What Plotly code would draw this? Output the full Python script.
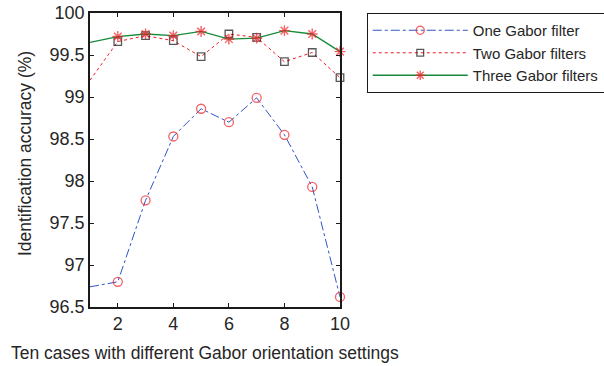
import plotly.graph_objects as go

# Orientation setting index (case number)
cases = [1, 2, 3, 4, 5, 6, 7, 8, 9, 10]

# Identification accuracy (%) for each filter configuration
one_gabor = [96.74, 96.80, 97.77, 98.53, 98.86, 98.70, 98.99, 98.55, 97.93, 96.62]
two_gabor = [99.20, 99.66, 99.73, 99.67, 99.48, 99.75, 99.71, 99.42, 99.53, 99.23]
three_gabor = [99.65, 99.72, 99.75, 99.73, 99.78, 99.69, 99.70, 99.79, 99.75, 99.54]

series_names = ["One Gabor filter", "Two Gabor filters", "Three Gabor filters"]
y_ticks = [96.5, 97, 97.5, 98, 98.5, 99, 99.5, 100]
x_ticks = [2, 4, 6, 8, 10]

FONT = "Liberation Sans, Arial, Helvetica, sans-serif"
TXT = "#262626"


def marker_sizes(values, size):
    # the first case sits on the left axis edge and is drawn without a marker
    return [0] + [size] * (len(values) - 1)


fig = go.Figure()

fig.add_trace(go.Scatter(
    x=cases, y=one_gabor, name=series_names[0], mode="lines+markers",
    line=dict(color="#2f55c4", width=1, dash="dashdot"),
    marker=dict(symbol="circle-open", size=marker_sizes(one_gabor, 9),
                color="#ee1c24", line=dict(color="#ee1c24", width=1.3)),
    cliponaxis=False,
))
fig.add_trace(go.Scatter(
    x=cases, y=two_gabor, name=series_names[1], mode="lines+markers",
    line=dict(color="#ee1c24", width=1, dash="dot"),
    marker=dict(symbol="square-open", size=marker_sizes(two_gabor, 7.5),
                color="#111111", line=dict(color="#111111", width=1.3)),
    cliponaxis=False,
))
fig.add_trace(go.Scatter(
    x=cases, y=three_gabor, name=series_names[2], mode="lines+markers",
    line=dict(color="#178a3a", width=1.3),
    marker=dict(symbol="asterisk-open", size=marker_sizes(three_gabor, 9),
                color="#ee1c24", line=dict(color="#ee1c24", width=1.4)),
    cliponaxis=False,
))

axis_common = dict(
    showline=True, linecolor="#1a1a1a", linewidth=1.6, mirror="ticks",
    ticks="inside", ticklen=4, tickcolor="#1a1a1a", tickwidth=1,
    showgrid=False, zeroline=False,
    tickfont=dict(family=FONT, size=18, color=TXT),
)

fig.update_xaxes(range=[1, 10], tickvals=x_ticks, **axis_common)
fig.update_yaxes(range=[96.5, 100], tickvals=y_ticks, **axis_common)

fig.add_annotation(
    text="Ten cases with different Gabor orientation settings",
    xref="paper", yref="paper", x=0.46, y=-0.157,
    xanchor="center", yanchor="middle", showarrow=False,
    font=dict(family=FONT, size=17.5, color=TXT),
)
fig.add_annotation(
    text="Identification accuracy (%)",
    xref="paper", yref="paper", x=-0.26, y=0.52, textangle=-90,
    xanchor="center", yanchor="middle", showarrow=False,
    font=dict(family=FONT, size=17.5, color=TXT),
)

fig.update_layout(
    width=604, height=366,
    margin=dict(l=90, r=264, t=13, b=59, autoexpand=False),
    plot_bgcolor="white", paper_bgcolor="white",
    legend=dict(
        x=1.107, y=1.0, xanchor="left", yanchor="top",
        bordercolor="#1a1a1a", borderwidth=1, bgcolor="white",
        font=dict(family=FONT, size=15, color=TXT),
        itemwidth=95, tracegroupgap=0,
    ),
)

fig.write_html("out.html")
